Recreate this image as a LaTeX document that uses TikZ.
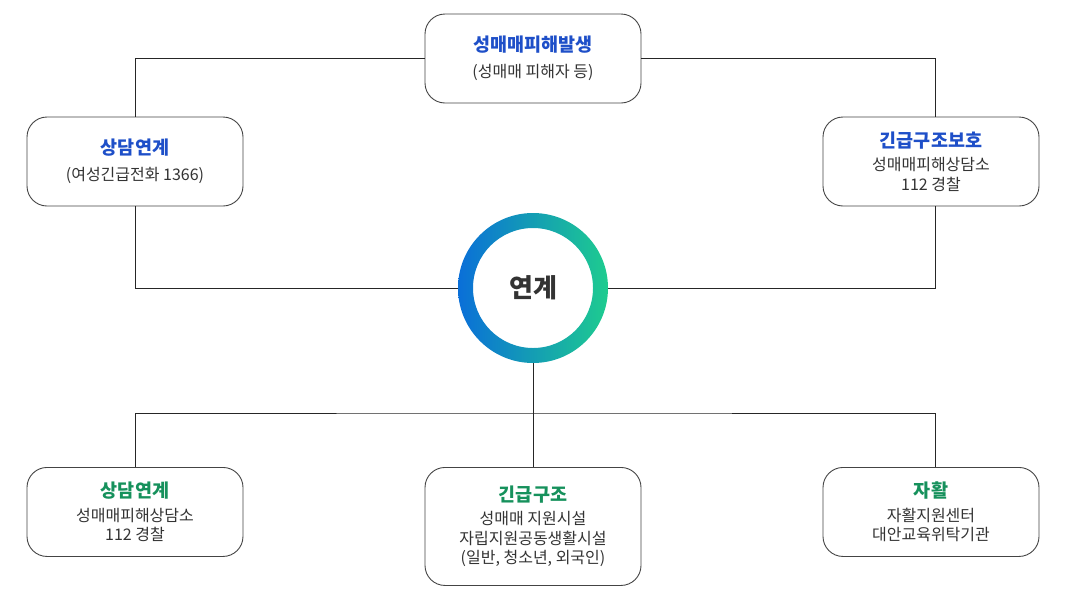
\documentclass[tikz,border=0pt]{standalone}
\usepackage{fontspec}
\setmainfont{Noto Sans CJK KR}
\usetikzlibrary{positioning}

\definecolor{titleblue}{HTML}{1E4FC8}
\definecolor{titlegreen}{HTML}{16915C}
\definecolor{ringblue}{HTML}{0A6FD8}
\definecolor{ringgreen}{HTML}{1ECC8F}
\definecolor{boxline}{HTML}{444444}
\definecolor{bodytext}{HTML}{333333}

\tikzset{
    infobox/.style={draw=boxline, line width=0.9pt, rounded corners=20pt,
        minimum width=216pt, minimum height=89pt, align=center,
        text=bodytext, font=\fontsize{16}{19.5}\selectfont},
    link/.style={draw=black!85, line width=0.8pt},
}
\newcommand{\bluehead}[1]{{\color{titleblue}\bfseries\fontsize{18.5}{20}\selectfont #1}}
\newcommand{\greenhead}[1]{{\color{titlegreen}\bfseries\fontsize{18.5}{20}\selectfont #1}}

\begin{document}
\begin{tikzpicture}[x=1pt, y=-1pt]
    \useasboundingbox (0,0) rectangle (1065,600);

    % upper row
    \node[infobox] (harm) at (533,58.5) {\bluehead{성매매피해발생}\\[6pt](성매매 피해자 등)};
    \node[infobox] (callcenter) at (135,161.5) {\bluehead{상담연계}\\[6pt](여성긴급전화 1366)};
    \node[infobox] (rescue) at (931,161.5) {\bluehead{긴급구조보호}\\[4pt]성매매피해상담소\\112 경찰};

    % hub
    \node[circle, minimum size=150pt, text=bodytext,
        font=\bfseries\fontsize{26}{30}\selectfont] (hub) at (533,288) {연계};

    % lower row
    \node[infobox, anchor=north] (counsel) at (135,467) {\greenhead{상담연계}\\[4pt]성매매피해상담소\\112 경찰};
    \node[infobox, anchor=north, minimum height=118pt] (shelter) at (533,467)
        {\greenhead{긴급구조}\\[4pt]성매매 지원시설\\자립지원공동생활시설\\(일반, 청소년, 외국인)};
    \node[infobox, anchor=north] (selfhelp) at (931,467) {\greenhead{자활}\\[4pt]자활지원센터\\대안교육위탁기관};

    \draw[link] (harm.west) -| (callcenter.north);
    \draw[link] (harm.east) -| ([xshift=4pt]rescue.north);
    \draw[link] (callcenter.south) |- (hub.west);
    \draw[link] (hub.east) -| ([xshift=4pt]rescue.south);

    \coordinate (split) at (533,413);
    \draw[link] (hub.south) -- (split);
    \draw[link] (counsel.north) |- (split) -| ([xshift=4pt]selfhelp.north);
    \draw[link] (split) -- (shelter.north);

    % gradient ring
    \shade[left color=ringblue, right color=ringgreen, even odd rule]
        (hub.center) circle (75pt) circle (60pt);
\end{tikzpicture}
\end{document}
